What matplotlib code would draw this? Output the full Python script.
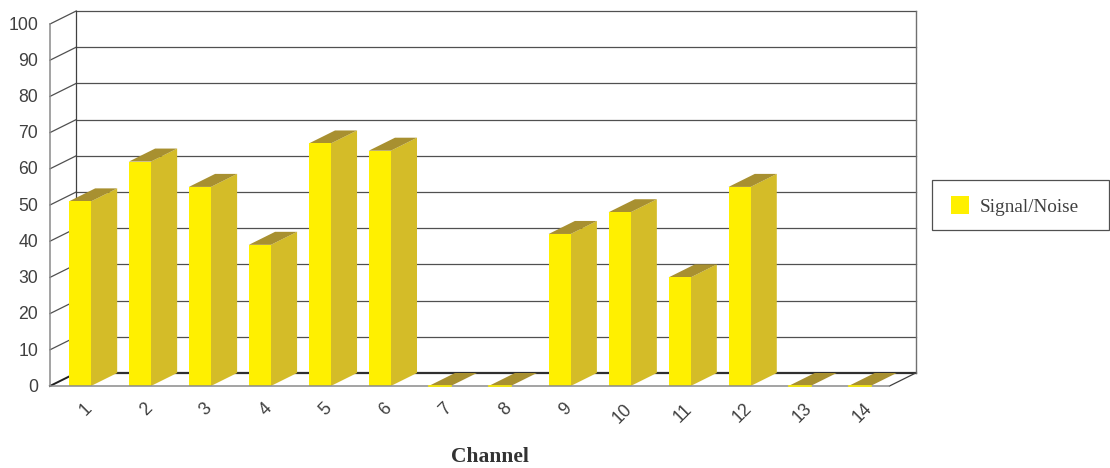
import matplotlib
matplotlib.use("Agg")
import matplotlib.pyplot as plt
from matplotlib.patches import Polygon, Rectangle
from matplotlib.transforms import ScaledTranslation

channels = list(range(1, 15))
signal_noise = [51, 62, 55, 39, 67, 65, 0, 0, 42, 48, 30, 55, 0, 0]
y_ticks = list(range(0, 101, 10))
series_name = "Signal/Noise"
x_title = "Channel"

W, H = 1110, 468
FRONT, SIDE, TOP = "#FFF000", "#D4BC28", "#A89030"
GRID, AXIS, TXT = "#505050", "#8A8A8A", "#404040"
SANS, SERIF = "Liberation Sans", "Liberation Serif"

fig = plt.figure(figsize=(W / 100, H / 100), dpi=100, facecolor="white")
L, R, T, B = 50, 889.5, 24, 386
ax = fig.add_axes([L / W, 1 - B / H, (R - L) / W, (B - T) / H])
ax.set_xlim(0.5, 14.5)
ax.set_ylim(0, 100)
ax.patch.set_visible(False)

dx = 26.2 / ((R - L) / 14)   # depth in channel units
dy = 13 / ((B - T) / 100)    # depth in value units
x0, x1 = 0.5, 14.5

# walls
for v in y_ticks:
    ax.plot([x0 + dx, x1 + dx], [v + dy, v + dy], color=GRID if v else "#303030",
            lw=0.9 if v else 1.6, clip_on=False, zorder=1)
    ax.plot([x0, x0 + dx], [v, v + dy], color=GRID if v else "#202020",
            lw=0.9 if v else 1.4, clip_on=False, zorder=1)
ax.plot([x0 + dx, x0 + dx], [dy, 100 + dy], color="#404040", lw=0.9, clip_on=False, zorder=1)
ax.plot([x1 + dx, x1 + dx], [dy, 100 + dy], color="#707070", lw=1.0, clip_on=False, zorder=1)
ax.plot([x1, x1 + dx], [0, dy], color="#404040", lw=0.9, clip_on=False, zorder=1)

# bars
w = 22 / ((R - L) / 14)
bars = ax.bar(channels, signal_noise, width=w, color=FRONT, linewidth=0, label=series_name, zorder=3)
for c, v in zip(channels, signal_noise):
    l, r = c - w / 2, c + w / 2
    ax.add_patch(Polygon([(r, 0), (r + dx, dy), (r + dx, v + dy), (r, v)], closed=True,
                         fc=SIDE, ec="none", clip_on=False, zorder=2.5))
    ax.add_patch(Polygon([(l, v), (l + dx, v + dy), (r + dx, v + dy), (r, v)], closed=True,
                         fc=TOP, ec="none", clip_on=False, zorder=2.5))
    if v == 0:
        ax.plot([l, r], [0, 0], color=FRONT, lw=1.2, clip_on=False, zorder=4)

# axes lines
for s in ("top", "right"):
    ax.spines[s].set_visible(False)
for s in ("left", "bottom"):
    ax.spines[s].set_color(AXIS)
    ax.spines[s].set_linewidth(1.1)
    ax.spines[s].set_zorder(3.5)

ax.set_yticks(y_ticks)
ax.set_xticks(channels)
ax.tick_params(axis="both", length=0)
ax.tick_params(axis="y", pad=8.6, labelsize=12.7, labelcolor=TXT)
ax.tick_params(axis="x", pad=14.6, labelsize=12.7, labelcolor=TXT)
for t in ax.get_yticklabels():
    t.set_fontfamily(SANS)
    t.set_transform(t.get_transform() + ScaledTranslation(0, 0.8 / 100, fig.dpi_scale_trans))
for t in ax.get_xticklabels():
    t.set_fontfamily(SANS)
    t.set_rotation(45)
    t.set_rotation_mode("anchor")
    t.set_ha("right")
    t.set_va("center")
    t.set_transform(t.get_transform() + ScaledTranslation(9.5 / 100, 0, fig.dpi_scale_trans))

fig.text(489.5 / W, 1 - 457 / H, x_title, family=SERIF, weight="bold", fontsize=15.5,
         color="#333333", ha="center", va="center")

# legend
fig.add_artist(Rectangle((932 / W, 1 - 230 / H), 177 / W, 50 / H, transform=fig.transFigure,
                         fc="white", ec="#505050", lw=0.9, zorder=-1))
leg = ax.legend(handles=[bars], labels=[series_name], loc="center left",
                bbox_to_anchor=(951 / W, 1 - 206 / H), bbox_transform=fig.transFigure,
                frameon=False, borderaxespad=0, borderpad=0,
                prop={"family": SERIF, "size": 13.9}, labelcolor=TXT,
                handlelength=0.94, handleheight=1.0, handletextpad=0.57)

fig.savefig("out.png", dpi=100, facecolor="white")
